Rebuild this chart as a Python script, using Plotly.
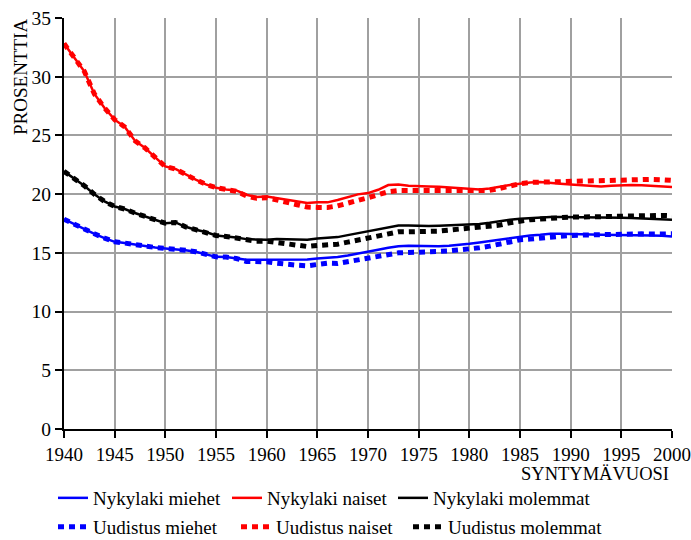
import plotly.graph_objects as go

years = list(range(1940, 2001))

nyky_miehet = [17.87, 17.45, 16.97, 16.62, 16.26, 15.94, 15.83, 15.69, 15.54, 15.46,
               15.37, 15.32, 15.23, 15.09, 14.86, 14.66, 14.64, 14.52, 14.41, 14.41,
               14.41, 14.41, 14.41, 14.41, 14.44, 14.52, 14.58, 14.64, 14.78, 14.92,
               15.09, 15.26, 15.43, 15.57, 15.60, 15.57, 15.54, 15.57, 15.60, 15.66,
               15.77, 15.88, 16.00, 16.14, 16.28, 16.40, 16.48, 16.54, 16.62, 16.62,
               16.62, 16.60, 16.57, 16.54, 16.54, 16.54, 16.51, 16.51, 16.48, 16.45,
               16.40]
nyky_naiset = [32.82, 31.60, 30.46, 28.53, 27.34, 26.34, 25.72, 24.55, 23.93, 23.13,
               22.36, 22.14, 21.65, 21.23, 20.83, 20.55, 20.40, 20.32, 19.95, 19.75,
               19.80, 19.66, 19.58, 19.38, 19.24, 19.30, 19.30, 19.50, 19.75, 19.98,
               20.09, 20.37, 20.77, 20.83, 20.72, 20.72, 20.66, 20.63, 20.57, 20.52,
               20.43, 20.40, 20.49, 20.60, 20.77, 20.89, 21.00, 21.03, 20.94, 20.89,
               20.83, 20.77, 20.72, 20.66, 20.72, 20.77, 20.77, 20.75, 20.72, 20.66,
               20.60]
nyky_molemmat = [21.94, 21.34, 20.72, 19.98, 19.38, 18.95, 18.73, 18.39, 18.10, 17.85,
                 17.53, 17.59, 17.22, 16.97, 16.77, 16.48, 16.40, 16.31, 16.17, 16.11,
                 16.11, 16.17, 16.17, 16.14, 16.11, 16.22, 16.28, 16.34, 16.51, 16.68,
                 16.85, 17.05, 17.22, 17.33, 17.33, 17.28, 17.28, 17.31, 17.33, 17.36,
                 17.39, 17.45, 17.56, 17.70, 17.82, 17.90, 17.96, 18.02, 18.05, 18.05,
                 18.05, 18.05, 18.05, 18.05, 18.02, 17.99, 17.96, 17.93, 17.90, 17.88,
                 17.82]
uud_miehet = [17.87, 17.45, 16.97, 16.62, 16.26, 15.94, 15.83, 15.69, 15.54, 15.46,
              15.37, 15.32, 15.23, 15.09, 14.86, 14.66, 14.64, 14.52, 14.27, 14.27,
              14.24, 14.12, 14.01, 13.95, 13.90, 14.04, 14.12, 14.10, 14.24, 14.41,
              14.55, 14.72, 14.89, 15.00, 15.03, 15.03, 15.06, 15.12, 15.17, 15.23,
              15.34, 15.43, 15.57, 15.77, 15.97, 16.11, 16.17, 16.26, 16.37, 16.45,
              16.48, 16.51, 16.54, 16.57, 16.60, 16.60, 16.62, 16.62, 16.60, 16.60,
              16.62]
uud_naiset = [32.82, 31.60, 30.46, 28.53, 27.34, 26.34, 25.72, 24.55, 23.93, 23.13,
              22.36, 22.14, 21.65, 21.23, 20.83, 20.55, 20.40, 20.25, 19.85, 19.65,
              19.70, 19.55, 19.30, 19.10, 18.90, 18.87, 18.87, 19.00, 19.27, 19.50,
              19.70, 19.95, 20.20, 20.30, 20.30, 20.30, 20.30, 20.30, 20.30, 20.30,
              20.25, 20.23, 20.32, 20.49, 20.72, 20.89, 21.00, 21.03, 21.06, 21.09,
              21.09, 21.09, 21.09, 21.12, 21.17, 21.23, 21.29, 21.29, 21.26, 21.23,
              21.17]
uud_molemmat = [21.94, 21.34, 20.72, 19.98, 19.38, 18.95, 18.73, 18.39, 18.10, 17.85,
                17.53, 17.59, 17.22, 16.97, 16.77, 16.48, 16.40, 16.25, 16.08, 15.99,
                16.00, 15.88, 15.74, 15.63, 15.54, 15.63, 15.69, 15.74, 15.91, 16.08,
                16.28, 16.48, 16.68, 16.79, 16.79, 16.79, 16.82, 16.85, 16.94, 17.02,
                17.08, 17.10, 17.19, 17.36, 17.56, 17.73, 17.82, 17.88, 17.96, 17.99,
                18.05, 18.05, 18.08, 18.10, 18.13, 18.16, 18.19, 18.19, 18.19, 18.19,
                18.16]

x_ticks = [1940, 1945, 1950, 1955, 1960, 1965, 1970, 1975, 1980, 1985, 1990, 1995, 2000]
y_ticks = [0, 5, 10, 15, 20, 25, 30, 35]

FONT = "Liberation Serif"
W, H = 691, 540
ML, MR, MT, MB = 64, 19, 18, 111
PW, PH = W - ML - MR, H - MT - MB

def px_x(p):
    return (p - ML) / PW

def px_y(p):
    return (H - MB - p) / PH

series = [
    ("Nykylaki miehet", nyky_miehet, "#0000ff", "solid", "legend"),
    ("Nykylaki naiset", nyky_naiset, "#ff0000", "solid", "legend2"),
    ("Nykylaki molemmat", nyky_molemmat, "#000000", "solid", "legend3"),
    ("Uudistus miehet", uud_miehet, "#0000ff", "dot", "legend4"),
    ("Uudistus naiset", uud_naiset, "#ff0000", "dot", "legend5"),
    ("Uudistus molemmat", uud_molemmat, "#000000", "dot", "legend6"),
]

fig = go.Figure()
for name, vals, col, style, leg in series:
    if style == "solid":
        line = dict(color=col, width=2.5)
    else:
        line = dict(color=col, width=5, dash="6px,5px")
    fig.add_trace(go.Scatter(x=years, y=vals, mode="lines", name=name,
                             line=line, legend=leg))

# legend placements (text start px, row centre px)
leg_pos = {
    "legend": (93, 498), "legend2": (267, 498), "legend3": (433, 498),
    "legend4": (93, 527), "legend5": (276, 527), "legend6": (448, 527),
}
leg_layout = {}
for k, (tx, cy) in leg_pos.items():
    leg_layout[k] = dict(x=px_x(tx - 40), y=px_y(cy), xanchor="left", yanchor="middle",
                         orientation="v", bgcolor="rgba(0,0,0,0)", borderwidth=0,
                         font=dict(family=FONT, size=19, color="black"),
                         itemwidth=30, tracegroupgap=0)

fig.update_layout(
    width=W, height=H,
    margin=dict(l=ML, r=MR, t=MT, b=MB, pad=0, autoexpand=False),
    paper_bgcolor="white", plot_bgcolor="white",
    font=dict(family=FONT, size=19, color="black"),
    showlegend=True,
    xaxis=dict(range=[1940, 2000], tickmode="array", tickvals=x_ticks,
               showgrid=True, gridcolor="#a0a0a0", gridwidth=1.5,
               showline=True, linecolor="black", linewidth=2,
               ticks="outside", ticklen=7, tickwidth=1.5, tickcolor="black",
               zeroline=False, automargin=False,
               tickfont=dict(family=FONT, size=19, color="black")),
    yaxis=dict(range=[0, 35], tickmode="array", tickvals=y_ticks,
               showgrid=True, gridcolor="#a0a0a0", gridwidth=1.5,
               showline=True, linecolor="black", linewidth=2,
               ticks="outside", ticklen=7, tickwidth=1.5, tickcolor="black",
               zeroline=False, automargin=False,
               tickfont=dict(family=FONT, size=19.5, color="black")),
    annotations=[
        dict(text="PROSENTTIA", xref="paper", yref="paper", x=px_x(20), y=px_y(77),
             xanchor="center", yanchor="middle", textangle=-90, showarrow=False,
             font=dict(family=FONT, size=19, color="black")),
        dict(text="SYNTYMÄVUOSI", xref="paper", yref="paper", x=px_x(671), y=px_y(474),
             xanchor="right", yanchor="middle", showarrow=False,
             font=dict(family=FONT, size=18.5, color="black")),
    ],
    **leg_layout,
)

fig.write_html("out.html",
               config={"displayModeBar": False},
               post_script="document.body.style.margin='0px';"
                           "document.body.style.overflow='hidden';")
